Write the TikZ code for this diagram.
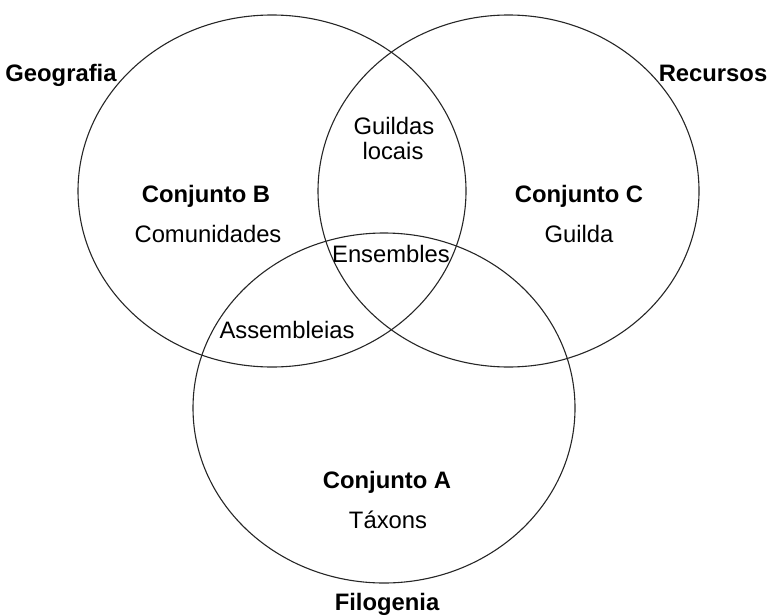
\documentclass[tikz,border=0pt]{standalone}
\usepackage{fontspec}
\setmainfont{Liberation Sans}
\begin{document}
\begin{tikzpicture}[x=1pt,y=-1pt,
  setcircle/.style={draw=black!85,line width=1.1pt},
  lbl/.style={inner sep=0pt,anchor=base,font=\fontsize{23.8}{27}\selectfont},
  blbl/.style={lbl,font=\fontsize{23.8}{27}\selectfont\bfseries}]
\useasboundingbox (0,0) rectangle (767,615);
\coordinate (cB) at (272,191);
\coordinate (cC) at (508.5,191);
\coordinate (cA) at (384,408);
\draw[setcircle] (cB) ellipse [x radius=194pt, y radius=176pt];
\draw[setcircle] (cC) ellipse [x radius=190.5pt, y radius=176pt];
\draw[setcircle] (cA) ellipse [x radius=191pt, y radius=175pt];
\node[blbl] (geo) at (61,82) {Geografia};
\node[blbl] (rec) at (713,82) {Recursos};
\node[blbl] (filo) at (387,610) {Filogenia};
\node[blbl] (conjB) at (206,202) {Conjunto B};
\node[lbl] (comu) at (208,242) {Comunidades};
\node[blbl] (conjC) at (579,202) {Conjunto C};
\node[lbl] (guilda) at (579,242) {Guilda};
\node[blbl] (conjA) at (387,488.5) {Conjunto A};
\node[lbl] (tax) at (388,528.5) {Táxons};
\node[lbl] (guildas) at (394,134) {Guildas};
\node[lbl] (locais) at (393,159.5) {locais};
\node[lbl] (ens) at (391,262) {Ensembles};
\node[lbl] (ass) at (287,338.5) {Assembleias};
\end{tikzpicture}
\end{document}
